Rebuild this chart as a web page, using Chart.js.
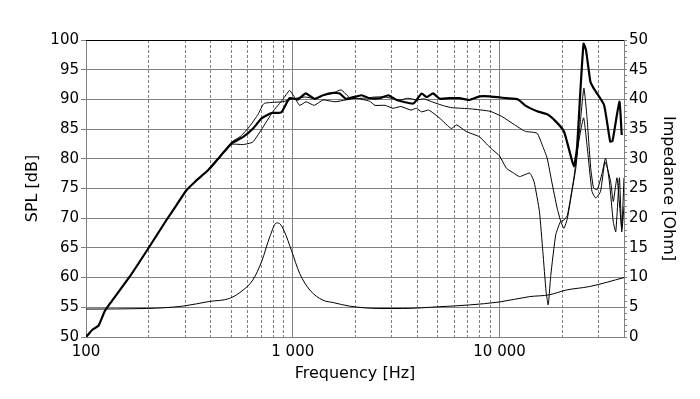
<!DOCTYPE html>
<html>
<head>
<meta charset="UTF-8">
<title>SPL / Impedance</title>
<script src="https://cdn.jsdelivr.net/npm/chart.js"></script>
<style>
  body { margin: 0; background: #fff; }
</style>
</head>
<body>
<canvas id="splChart" width="700" height="399"></canvas>
<script>
// tick values
const xMajor = [100, 1000, 10000];
const xMajorLabels = ['100', '1 000', '10 000'];
const xMinor = [200, 300, 400, 500, 600, 700, 800, 900,
                2000, 3000, 4000, 5000, 6000, 7000, 8000, 9000,
                20000, 30000];

// on-axis SPL (thick)
const onAxisFreq = [100, 108, 115, 123, 131, 163, 200, 245, 274, 306, 336, 390, 445, 506, 576, 643, 706, 790, 880,
  965, 1058, 1156, 1273, 1401, 1567, 1686, 1812, 2150, 2352, 2637, 2900, 3180, 3830, 4200, 4440, 4770, 5150,
  5730, 6390, 7150, 8000, 8960, 10800, 12300, 13400, 15200, 17000, 18700, 20500, 21600, 22900, 23700, 24600,
  25500, 26200, 27500, 28500, 32000, 34300, 35200, 38000, 39000];
const onAxisSpl = [50.0, 51.3, 51.9, 54.3, 55.7, 60.2, 64.9, 69.7, 72.2, 74.7, 76.1, 78.1, 80.4, 82.6, 83.7, 85.1, 86.8, 87.7, 87.8,
  90.2, 90.0, 91.0, 90.1, 90.7, 91.1, 91.0, 90.1, 90.7, 90.2, 90.2, 90.7, 89.9, 89.3, 91.0, 90.4, 91.0, 90.1,
  90.2, 90.2, 89.9, 90.5, 90.5, 90.2, 90.0, 88.9, 88.0, 87.5, 86.3, 84.6, 81.8, 78.7, 81.8, 91.3,
  99.4, 98.3, 93.0, 91.9, 89.1, 82.9, 83.0, 89.6, 84.0];

// off-axis SPL A (thin)
const offAFreq = [400, 506, 560, 620, 680, 725, 800, 895, 1000, 1150, 1300, 1400, 1550, 1713, 1900, 2200, 2500, 2800,
  3300, 3600, 4000, 4300, 4700, 5400, 5900, 7300, 9000, 10300, 11500, 13000, 13400, 15200, 16100, 17000, 17900,
  19000, 19800, 20500, 21300, 22400, 23400, 24700, 25600, 26500, 27600, 28500, 29700, 31200, 32600, 34000,
  35500, 36500, 38000, 39000, 40000];
const offASpl = [78.4, 82.8, 83.8, 85.5, 87.5, 89.3, 89.5, 89.6, 90.1, 90.4, 90.1, 90.7, 91.0, 91.6, 90.2, 90.2, 90.4, 90.4,
  89.9, 90.2, 89.9, 90.1, 89.6, 88.9, 88.6, 88.4, 88.0, 87.1, 86.0, 84.8, 84.6, 84.3, 82.3, 80.1, 76.1,
  71.7, 69.4, 68.3, 70.0, 74.5, 78.5, 86.9, 91.9, 86.9, 78.5, 75.1, 74.8, 77.3, 80.1, 76.1,
  69.4, 67.7, 76.8, 67.7, 72.0];

// off-axis SPL B (thin)
const offBFreq = [400, 506, 575, 640, 705, 800, 895, 965, 1010, 1080, 1160, 1270, 1400, 1600, 1800, 2030, 2350, 2500,
  2800, 3050, 3330, 3730, 3960, 4200, 4550, 5150, 5840, 6200, 6900, 8000, 8770, 9270, 10000, 10800, 11700,
  12500, 14000, 14700, 15600, 16200, 16800, 17200, 17700, 18700, 19700, 20500, 21300, 22900, 24000, 25500,
  26500, 28000, 29200, 30800, 32300, 33200, 34500, 35500, 37000, 39000, 40000];
const offBSpl = [78.3, 82.4, 82.4, 82.8, 84.9, 87.9, 90.0, 91.5, 90.6, 89.0, 89.6, 89.0, 89.9, 89.6, 89.9, 90.2, 89.7, 89.0,
  89.0, 88.5, 88.8, 88.2, 88.5, 87.9, 88.2, 86.8, 85.1, 85.7, 84.6, 83.7, 82.3, 81.5, 80.5, 78.4, 77.6,
  77.0, 77.6, 76.1, 71.1, 64.4, 57.6, 55.4, 60.4, 67.2, 69.4, 69.7, 70.5, 76.8, 82.3, 86.9,
  82.3, 74.5, 73.4, 74.5, 79.5, 78.5, 76.1, 72.8, 76.8, 68.3, 76.8];

// impedance [Ohm] (right axis)
const impFreq = [100, 196, 294, 397, 495, 575, 641, 707, 775, 835, 870, 910, 985, 1080, 1210, 1400, 1570, 1880,
  2640, 3400, 5150, 7150, 10000, 14000, 17400, 21000, 27300, 40000];
const impOhm = [4.7, 4.8, 5.2, 6.0, 6.5, 7.9, 9.6, 12.7, 16.9, 19.2, 19.0, 17.8, 14.6, 10.7, 7.9, 6.2, 5.8, 5.2,
  4.8, 4.8, 5.1, 5.4, 5.9, 6.8, 7.1, 7.9, 8.5, 10.0];

const pts = (fs, vs) => fs.map((f, i) => ({ x: f, y: vs[i] }));

const tickFont = { family: 'DejaVu Sans', size: 15 };
const titleFont = { family: 'DejaVu Sans', size: 16 };
const gridGray = '#808080';

// dashed minor grid + black top frame
const minorGrid = {
  id: 'minorGrid',
  beforeDatasetsDraw(chart) {
    const { ctx, chartArea: a, scales: { x } } = chart;
    ctx.save();
    ctx.strokeStyle = gridGray;
    ctx.lineWidth = 1;
    ctx.setLineDash([3, 2]);
    xMinor.forEach(f => {
      const px = Math.round(x.getPixelForValue(f)) + 0.5;
      ctx.beginPath();
      ctx.moveTo(px, a.top);
      ctx.lineTo(px, a.bottom);
      ctx.stroke();
    });
    ctx.setLineDash([]);
    ctx.strokeStyle = '#000';
    ctx.beginPath();
    ctx.moveTo(a.left, Math.round(a.top) + 0.5);
    ctx.lineTo(a.right, Math.round(a.top) + 0.5);
    ctx.stroke();
    ctx.restore();
  }
};

new Chart(document.getElementById('splChart'), {
  type: 'line',
  data: {
    datasets: [
      { data: pts(offAFreq, offASpl), borderColor: '#000', borderWidth: 1, tension: 0.15, yAxisID: 'y' },
      { data: pts(offBFreq, offBSpl), borderColor: '#000', borderWidth: 1, tension: 0.15, yAxisID: 'y' },
      { data: pts(impFreq, impOhm), borderColor: '#000', borderWidth: 1, cubicInterpolationMode: 'monotone', yAxisID: 'y2' },
      { data: pts(onAxisFreq, onAxisSpl), borderColor: '#000', borderWidth: 2.2, tension: 0.15, yAxisID: 'y' }
    ]
  },
  options: {
    responsive: false,
    animation: false,
    devicePixelRatio: 1,
    elements: { point: { radius: 0 } },
    layout: { padding: { top: 40, left: 23, right: 22, bottom: 16 } },
    plugins: { legend: { display: false }, tooltip: { enabled: false } },
    scales: {
      x: {
        type: 'logarithmic',
        min: 100,
        max: 40000,
        afterBuildTicks: s => { s.ticks = xMajor.map(v => ({ value: v })); },
        afterFit: s => { s.height = 46; },
        ticks: {
          autoSkip: false, maxRotation: 0, padding: 6, color: '#000', font: tickFont,
          callback: (v, i) => xMajorLabels[i]
        },
        grid: { color: gridGray, drawTicks: false },
        border: { color: gridGray },
        title: { display: true, text: 'Frequency [Hz]', color: '#000', font: titleFont, padding: 0 }
      },
      y: {
        position: 'left',
        min: 50,
        max: 100,
        afterFit: s => { s.width = 63; },
        ticks: { stepSize: 5, padding: 2, color: '#000', font: tickFont },
        grid: { color: gridGray, tickLength: 5 },
        border: { color: gridGray },
        title: { display: true, text: 'SPL [dB]', color: '#000', font: titleFont, padding: 0 }
      },
      y2: {
        position: 'right',
        min: 0,
        max: 50,
        afterFit: s => { s.width = 54; },
        ticks: {
          stepSize: 1, autoSkip: false, padding: 2, color: '#000', font: tickFont,
          callback: v => (v % 5 === 0 ? String(v) : '')
        },
        grid: { drawOnChartArea: false, color: gridGray, tickLength: 3 },
        border: { color: gridGray },
        title: { display: true, text: 'Impedance [Ohm]', color: '#000', font: titleFont, padding: 0 }
      }
    }
  },
  plugins: [minorGrid]
});
</script>
</body>
</html>
